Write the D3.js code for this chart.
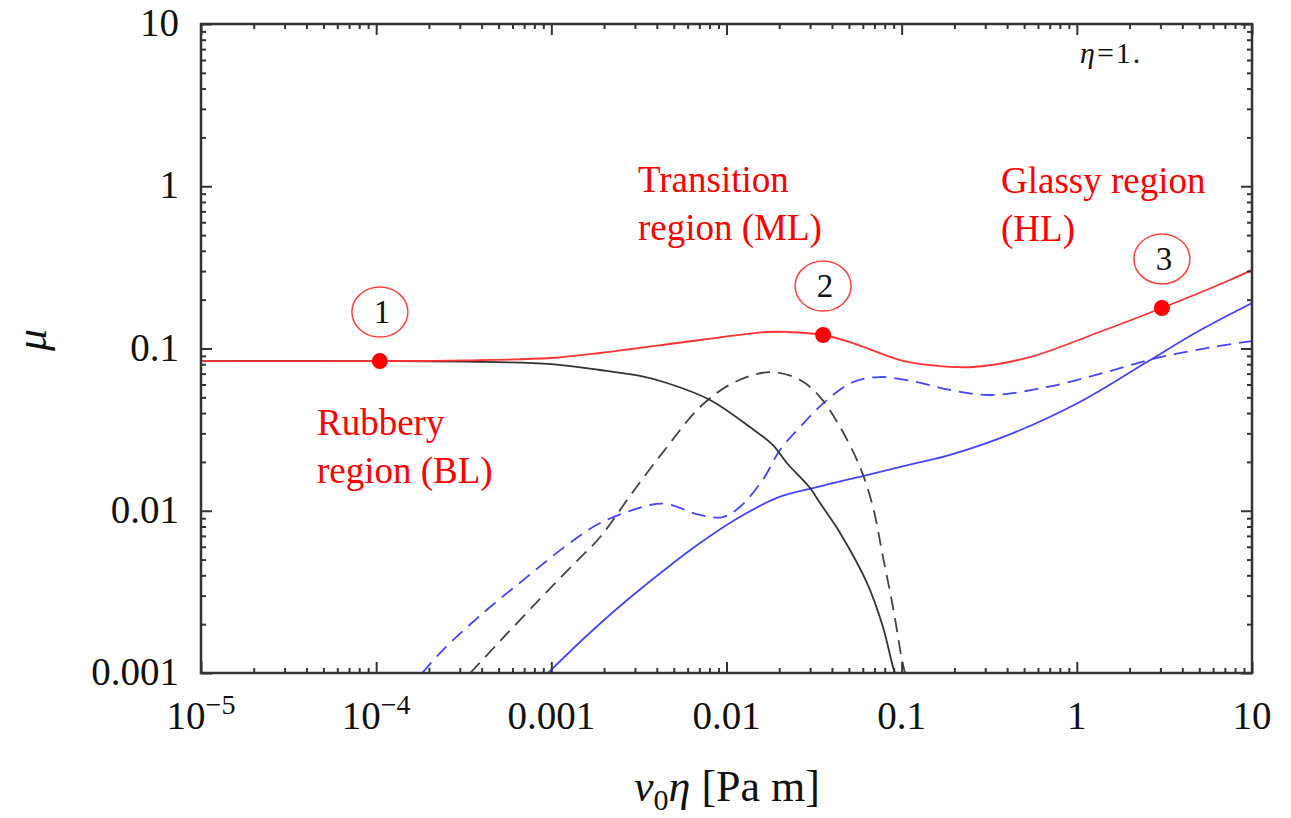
<!DOCTYPE html>
<html><head><meta charset="utf-8">
<script src="https://cdn.jsdelivr.net/npm/d3@7"></script>
<style>body{margin:0;background:#fff;} svg{display:block;}</style>
</head><body>
<svg id="chart" width="1291" height="818"></svg>
<script>
// ---- data ----
const xMajorTicks = [1e-5, 1e-4, 1e-3, 1e-2, 1e-1, 1, 10];
const xTickLabels = [["10","−5"], ["10","−4"], ["0.001"], ["0.01"], ["0.1"], ["1"], ["10"]];
const yMajorTicks = [0.001, 0.01, 0.1, 1, 10];
const yTickLabels = ["0.001", "0.01", "0.1", "1", "10"];

// total friction (red)
const totalX = [1e-5, 1.05e-4, 3.2e-4, 0.001, 0.0019, 0.00706, 0.0170, 0.0221, 0.0356, 0.0507, 0.0978, 0.145, 0.255, 0.540, 1.30, 3.06, 7.48, 10];
const totalY = [0.0837, 0.0837, 0.0845, 0.0874, 0.0938, 0.1128, 0.1264, 0.1264, 0.1211, 0.1096, 0.0849, 0.0791, 0.0769, 0.0886, 0.1246, 0.1777, 0.2644, 0.305];
// black solid
const blackX = [1e-5, 1.05e-4, 3.2e-4, 0.001, 0.0019, 0.00321, 0.00457, 0.00806, 0.0136, 0.0184, 0.0221, 0.030, 0.0342, 0.0445, 0.0634, 0.0782, 0.0892, 0.0916];
const blackY = [0.0837, 0.0837, 0.0830, 0.0802, 0.0737, 0.0677, 0.0613, 0.0482, 0.0328, 0.0254, 0.0197, 0.0138, 0.01116, 0.0073, 0.00359, 0.00192, 0.00109, 0.001];
// black dashed
const blackDashX = [3.44e-4, 5.09e-4, 8.61e-4, 0.00133, 0.0019, 0.00292, 0.00457, 0.00706, 0.0109, 0.0177, 0.0263, 0.0342, 0.0445, 0.0578, 0.0686, 0.0782, 0.0892, 0.1005, 0.1045];
const blackDashY = [0.001, 0.00157, 0.00286, 0.00464, 0.00689, 0.01306, 0.0247, 0.0436, 0.0613, 0.0716, 0.064, 0.0502, 0.0328, 0.0186, 0.01054, 0.00519, 0.00255, 0.0012, 0.001];
// blue dashed
const blueDashX = [1.83e-4, 2.41e-4, 4.07e-4, 7.27e-4, 0.00123, 0.0019, 0.00366, 0.00457, 0.00706, 0.00955, 0.0119, 0.0161, 0.0202, 0.0263, 0.0375, 0.0527, 0.0751, 0.1223, 0.189, 0.319, 0.676, 1.41, 2.87, 5.98, 10];
const blueDashY = [0.001, 0.00139, 0.00234, 0.00391, 0.00615, 0.0084, 0.01085, 0.0110, 0.00942, 0.00915, 0.01054, 0.0155, 0.0237, 0.0328, 0.0482, 0.0621, 0.0667, 0.0621, 0.0555, 0.0517, 0.0579, 0.0706, 0.0874, 0.1021, 0.1112];
// blue solid
const blueX = [9.58e-4, 0.00152, 0.00247, 0.00457, 0.00706, 0.0109, 0.0194, 0.0329, 0.0634, 0.1223, 0.189, 0.432, 1.04, 2.51, 4.85, 10];
const blueY = [0.001, 0.00162, 0.00259, 0.00444, 0.00632, 0.00865, 0.012, 0.0140, 0.0166, 0.0197, 0.0221, 0.0301, 0.0468, 0.0825, 0.1264, 0.1907];

const pointX = [1.05e-4, 0.0356, 3.06];
const pointY = [0.0837, 0.1211, 0.1777];
const pointLabels = ["1", "2", "3"];

// ---- layout ----
const svg = d3.select("#chart");
const L = 201, R = 1252, T = 24, B = 673;
const x = d3.scaleLog().domain([1e-5, 10]).range([L, R]);
const y = d3.scaleLog().domain([0.001, 10]).range([B, T]);
const serif = "'Liberation Serif','Times New Roman',serif";

svg.append("clipPath").attr("id","clip").append("rect")
  .attr("x", L).attr("y", T).attr("width", R-L).attr("height", B-T);

const line = d3.line().x(d => x(d[0])).y(d => y(d[1])).curve(d3.curveCatmullRom.alpha(0.5));
const zip = (a, b) => a.map((v, i) => [v, b[i]]);
const series = [
  {xs: blueX, ys: blueY, color: "#4545ff", dash: null},
  {xs: blueDashX, ys: blueDashY, color: "#4545ff", dash: "14,8"},
  {xs: blackDashX, ys: blackDashY, color: "#444", dash: "14,8"},
  {xs: blackX, ys: blackY, color: "#333", dash: null},
  {xs: totalX, ys: totalY, color: "#ff3333", dash: null},
];
const g = svg.append("g").attr("clip-path", "url(#clip)");
series.forEach(s => {
  g.append("path").datum(zip(s.xs, s.ys)).attr("d", line)
    .attr("fill", "none").attr("stroke", s.color).attr("stroke-width", 1.8)
    .attr("stroke-dasharray", s.dash);
});

// ---- axes (frame with inward ticks on all sides) ----
const minorX = [], minorY = [];
for (let e = -5; e < 1; e++) for (let k = 2; k <= 9; k++) minorX.push(k * Math.pow(10, e));
for (let e = -3; e < 1; e++) for (let k = 2; k <= 9; k++) minorY.push(k * Math.pow(10, e));

const axisColor = "#333";
const ax = svg.append("g");
function addAxis(axisFn, scale, vals, size, transform) {
  const a = ax.append("g").attr("transform", transform)
    .call(axisFn(scale).tickValues(vals).tickSize(size).tickFormat(""));
  a.select(".domain").remove();
  a.selectAll(".tick line").attr("stroke", axisColor).attr("stroke-width", 2);
}
addAxis(d3.axisBottom, x, xMajorTicks, -11, `translate(0,${B})`);
addAxis(d3.axisBottom, x, minorX, -5, `translate(0,${B})`);
addAxis(d3.axisTop, x, xMajorTicks, -11, `translate(0,${T})`);
addAxis(d3.axisTop, x, minorX, -5, `translate(0,${T})`);
addAxis(d3.axisLeft, y, yMajorTicks, -11, `translate(${L},0)`);
addAxis(d3.axisLeft, y, minorY, -5, `translate(${L},0)`);
addAxis(d3.axisRight, y, yMajorTicks, -11, `translate(${R},0)`);
addAxis(d3.axisRight, y, minorY, -5, `translate(${R},0)`);
svg.append("rect").attr("x", L).attr("y", T).attr("width", R-L).attr("height", B-T)
  .attr("fill", "none").attr("stroke", axisColor).attr("stroke-width", 2.5);

// tick labels
xMajorTicks.forEach((v, i) => {
  const lab = xTickLabels[i];
  const t = svg.append("text").attr("x", x(v)).attr("y", 729)
    .attr("text-anchor", "middle").attr("font-family", serif).attr("font-size", 39).attr("fill", "#111");
  t.append("tspan").text(lab[0]);
  if (lab[1]) t.append("tspan").attr("dy", -15).attr("font-size", 28).text(lab[1]);
});
yMajorTicks.forEach((v, i) => {
  svg.append("text").attr("x", 179).attr("y", y(v) + 12)
    .attr("text-anchor", "end").attr("font-family", serif).attr("font-size", 39).attr("fill", "#111")
    .text(yTickLabels[i]);
});

// axis titles
const xt = svg.append("text").attr("x", 727).attr("y", 801).attr("text-anchor", "middle")
  .attr("font-family", serif).attr("font-size", 44).attr("fill", "#111");
xt.append("tspan").attr("font-style", "italic").text("v");
xt.append("tspan").attr("font-size", 30).attr("dy", 9).text("0");
xt.append("tspan").attr("font-style", "italic").attr("dy", -9).text("η");
xt.append("tspan").text(" [Pa m]");
svg.append("text").attr("transform", "translate(46,340) rotate(-90)").attr("text-anchor", "middle")
  .attr("font-family", serif).attr("font-size", 44).attr("font-style", "italic").attr("fill", "#111").text("μ");

// eta label
const et = svg.append("text").attr("x", 1080).attr("y", 63).attr("font-family", serif)
  .attr("font-size", 30).attr("letter-spacing", 2).attr("fill", "#111");
et.append("tspan").attr("font-style", "italic").text("η");
et.append("tspan").text("=1.");

// region annotations
const notes = [
  {x: 317, y: 435, lines: ["Rubbery", "region (BL)"]},
  {x: 638, y: 192, lines: ["Transition", "region (ML)"]},
  {x: 1001, y: 193, lines: ["Glassy region", "(HL)"]},
];
notes.forEach(n => {
  const t = svg.append("text").attr("font-family", serif).attr("font-size", 37).attr("fill", "#ff0000");
  n.lines.forEach((ln, i) => t.append("tspan").attr("x", n.x).attr("y", n.y + i * 48).text(ln));
});

// marked points with circled numbers
pointX.forEach((v, i) => {
  const cx = x(v), cy = y(pointY[i]);
  svg.append("circle").attr("cx", cx).attr("cy", cy).attr("r", 8).attr("fill", "#ff0000");
  const oy = cy - 49;
  svg.append("ellipse").attr("cx", cx).attr("cy", oy).attr("rx", 28).attr("ry", 25)
    .attr("fill", "none").attr("stroke", "#ff4040").attr("stroke-width", 1.5);
  svg.append("text").attr("x", cx + 2).attr("y", oy + 11).attr("text-anchor", "middle")
    .attr("font-family", serif).attr("font-size", 33).attr("fill", "#111").text(pointLabels[i]);
});
</script>
</body></html>
